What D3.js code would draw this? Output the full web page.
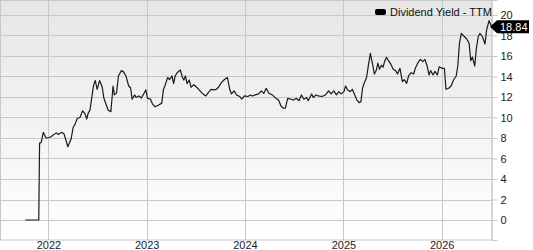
<!DOCTYPE html>
<html>
<head>
<meta charset="utf-8">
<script src="https://cdn.jsdelivr.net/npm/d3@7"></script>
<style>
  body { margin: 0; background: #fff; }
  text { font-family: "Liberation Sans", Arial, sans-serif; }
</style>
</head>
<body>
<div id="chart"></div>
<script>
// Dividend Yield - TTM
const dates = [
  "2021-10-07","2021-11-26","2021-11-29","2021-12-05","2021-12-13","2021-12-23","2022-01-05","2022-01-14",
  "2022-01-30","2022-02-07","2022-02-19","2022-02-28","2022-03-14","2022-03-26","2022-04-03","2022-04-10",
  "2022-04-18","2022-04-28","2022-05-08","2022-05-17","2022-05-23","2022-05-29","2022-06-04","2022-06-18",
  "2022-06-24","2022-07-01","2022-07-10","2022-07-20","2022-07-26","2022-08-11","2022-08-21","2022-08-29",
  "2022-09-03","2022-09-11","2022-09-18","2022-09-29","2022-10-07","2022-10-16","2022-10-26","2022-11-02",
  "2022-11-08","2022-11-17","2022-11-23","2022-12-03","2022-12-12","2022-12-21","2022-12-29","2023-01-04",
  "2023-01-15","2023-01-23","2023-02-01","2023-02-13","2023-02-26","2023-03-04","2023-03-11","2023-03-20",
  "2023-03-27","2023-04-05","2023-04-11","2023-04-17","2023-04-24","2023-05-06","2023-05-14","2023-05-19",
  "2023-05-25","2023-05-31","2023-06-08","2023-06-15","2023-06-25","2023-07-06","2023-07-15","2023-07-23",
  "2023-08-03","2023-08-09","2023-08-18","2023-08-28","2023-09-07","2023-09-16","2023-09-25","2023-10-05",
  "2023-10-15","2023-10-28","2023-11-06","2023-11-12","2023-11-22","2023-12-01","2023-12-13","2023-12-20",
  "2023-12-30","2024-01-12","2024-01-21","2024-01-29","2024-02-08","2024-02-21","2024-03-02","2024-03-11",
  "2024-03-20","2024-03-30","2024-04-12","2024-04-25","2024-05-05","2024-05-14","2024-05-23","2024-05-30",
  "2024-06-08","2024-06-21","2024-06-30","2024-07-10","2024-07-20","2024-07-29","2024-08-07","2024-08-17",
  "2024-08-23","2024-09-05","2024-09-11","2024-09-21","2024-09-30","2024-10-13","2024-10-26","2024-11-07",
  "2024-11-16","2024-11-26","2024-12-06","2024-12-15","2024-12-24","2025-01-03","2025-01-09","2025-01-16",
  "2025-01-26","2025-02-03","2025-02-12","2025-02-20","2025-02-28","2025-03-07","2025-03-13","2025-03-19",
  "2025-03-28","2025-04-03","2025-04-11","2025-04-20","2025-04-26","2025-05-03","2025-05-09","2025-05-15",
  "2025-05-22","2025-05-28","2025-06-04","2025-06-10","2025-06-16","2025-06-26","2025-07-05","2025-07-14",
  "2025-07-21","2025-07-30","2025-08-08","2025-08-15","2025-08-24","2025-08-31","2025-09-10","2025-09-19",
  "2025-09-25","2025-10-05","2025-10-14","2025-10-23","2025-10-31","2025-11-08","2025-11-15","2025-11-21",
  "2025-11-30","2025-12-07","2025-12-16","2025-12-23","2026-01-02","2026-01-11","2026-01-17","2026-01-27",
  "2026-02-05","2026-02-14","2026-02-24","2026-03-02","2026-03-08","2026-03-15","2026-03-24","2026-04-03",
  "2026-04-13","2026-04-19","2026-04-25","2026-05-04","2026-05-10","2026-05-17","2026-05-23","2026-06-01",
  "2026-06-11","2026-06-17","2026-06-26","2026-07-06"
];
const yieldValues = [
  0, 0, 7.5, 7.55, 8.55, 8.0, 8.05, 8.2,
  8.5, 8.35, 8.55, 8.4, 7.15, 7.9, 9.05, 9.35,
  9.9, 10.0, 10.65, 10.35, 9.85, 10.45, 10.7, 13.2,
  13.6, 12.75, 13.6, 12.95, 11.87, 10.7, 10.57, 13.07,
  12.2, 12.4, 14.05, 14.57, 14.45, 14.05, 13.07, 12.9,
  11.78, 12.2, 11.95, 12.1, 11.9, 12.3, 12.7, 11.87,
  11.8, 11.3, 11.05, 11.2, 11.4, 12.7, 13.2, 13.9,
  13.7, 14.05, 13.3, 14.05, 14.37, 14.63, 13.9, 13.65,
  14.05, 13.3, 13.66, 12.95, 13.2, 12.95, 12.7, 12.45,
  12.2, 12.1, 12.43, 12.75, 12.7, 12.75, 12.95, 13.4,
  13.66, 13.9, 12.7, 12.3, 12.6, 12.2, 12.05, 11.78,
  12.1, 12.05, 12.2, 12.1, 12.2, 12.3, 12.6, 12.35,
  12.85, 12.36, 12.2, 11.87, 11.7, 11.12, 10.9, 10.9,
  11.87, 11.78, 11.7, 11.87, 11.64, 12.2, 11.78, 11.95,
  11.64, 12.3, 11.95, 12.2, 12.1, 12.05, 12.2, 12.6,
  12.3, 12.6, 12.2, 12.52, 12.3, 12.52, 13.07, 12.7,
  12.52, 12.75, 12.2, 11.7, 11.45, 11.55, 12.85, 13.35,
  13.9, 14.96, 16.26, 15.1, 14.24, 14.6, 15.3, 14.7,
  15.1, 14.9, 15.54, 15.87, 15.6, 15.2, 14.7, 14.57,
  14.24, 14.8, 13.5, 13.7, 13.33, 14.05, 14.37, 14.24,
  14.8, 15.35, 15.67, 15.45, 15.67, 15.02, 14.15, 14.57,
  14.15, 14.5, 14.15, 14.96, 14.8, 14.8, 12.75, 12.85,
  13.07, 13.66, 14.05, 15.02, 17.24, 18.2, 17.95, 17.7,
  17.24, 15.54, 15.9, 15.02, 16.75, 17.9, 18.2, 17.9,
  17.17, 18.54, 19.44, 18.84
];
const yTicks = [0, 2, 4, 6, 8, 10, 12, 14, 16, 18, 20];
const xTickYears = ["2022", "2023", "2024", "2025", "2026"];
const seriesName = "Dividend Yield - TTM";
const lastLabel = "18.84";

const width = 533, height = 250;
const plotW = 492, plotH = 240;
const parse = d3.timeParse("%Y-%m-%d");
const data = dates.map((d, i) => ({ date: parse(d), value: yieldValues[i] }));

const svg = d3.select("#chart").append("svg")
  .attr("width", width)
  .attr("height", height);

const defs = svg.append("defs");
const grad = defs.append("linearGradient")
  .attr("id", "bg").attr("x1", 0).attr("y1", 0).attr("x2", 0).attr("y2", 1);
grad.append("stop").attr("offset", "0%").attr("stop-color", "#e6e6e6");
grad.append("stop").attr("offset", "100%").attr("stop-color", "#ffffff");

const x = d3.scaleTime()
  .domain([parse("2021-07-05"), parse("2026-07-07")])
  .range([0, plotW]);
const y = d3.scaleLinear()
  .domain([-1.95, 21.46])
  .range([plotH, 0]);

svg.append("rect")
  .attr("x", 0).attr("y", 0)
  .attr("width", plotW).attr("height", plotH)
  .attr("fill", "url(#bg)");

// gridlines
svg.append("g")
  .selectAll("line")
  .data(yTicks)
  .join("line")
  .attr("x1", 0).attr("x2", plotW)
  .attr("y1", d => Math.round(y(d)) + 0.5)
  .attr("y2", d => Math.round(y(d)) + 0.5)
  .attr("stroke", "#c8c8c8");

const yearDates = xTickYears.map(s => parse(s + "-01-01"));
svg.append("g")
  .selectAll("line")
  .data(yearDates)
  .join("line")
  .attr("x1", d => Math.round(x(d)) + 0.5)
  .attr("x2", d => Math.round(x(d)) + 0.5)
  .attr("y1", 0).attr("y2", plotH)
  .attr("stroke", "#c8c8c8");

// frame
svg.append("rect")
  .attr("x", 0.5).attr("y", 0.5)
  .attr("width", plotW - 0.5).attr("height", plotH - 0.5)
  .attr("fill", "none")
  .attr("stroke", "#c8c8c8");

// right axis
const yAxis = svg.append("g")
  .attr("transform", `translate(${plotW - 0.5},0)`)
  .call(d3.axisRight(y).tickValues(yTicks).tickSize(6).tickPadding(3).tickFormat(d3.format("d")));
yAxis.select(".domain").attr("stroke", "#c8c8c8");
yAxis.selectAll(".tick line").attr("stroke", "#c8c8c8");
yAxis.selectAll("text")
  .attr("fill", "#222")
  .style("font-size", "11px")
  .style("font-family", "'Liberation Sans', Arial, sans-serif");

// bottom axis
const xAxis = svg.append("g")
  .attr("transform", `translate(0,${plotH})`)
  .call(d3.axisBottom(x).tickValues(yearDates).tickSize(0).tickPadding(1).tickFormat(d3.timeFormat("%Y")));
xAxis.select(".domain").remove();
xAxis.selectAll("text")
  .attr("fill", "#222")
  .style("font-size", "11px")
  .style("font-family", "'Liberation Sans', Arial, sans-serif");

// series line
const line = d3.line()
  .x(d => x(d.date))
  .y(d => y(d.value));
svg.append("path")
  .datum(data)
  .attr("fill", "none")
  .attr("stroke", "#1a1a1a")
  .attr("stroke-width", 1.2)
  .attr("stroke-linejoin", "round")
  .attr("d", line);

// legend
const legend = svg.append("g").attr("transform", "translate(375,8)");
legend.append("rect")
  .attr("x", 0).attr("y", 1)
  .attr("width", 11).attr("height", 6)
  .attr("rx", 2)
  .attr("fill", "#000");
legend.append("text")
  .attr("x", 15).attr("y", 8)
  .attr("fill", "#111")
  .style("font-size", "11px")
  .text(seriesName);

// last value flag
const last = data[data.length - 1];
const ly = y(last.value);
const flag = svg.append("g").attr("transform", `translate(${plotW - 2},${ly})`);
flag.append("path")
  .attr("d", "M0,0 L7,-6.5 L39,-6.5 L39,6.5 L7,6.5 Z")
  .attr("fill", "#000");
flag.append("text")
  .attr("x", 10).attr("y", 4)
  .attr("fill", "#fff")
  .style("font-size", "11px")
  .text(lastLabel);
</script>
</body>
</html>
